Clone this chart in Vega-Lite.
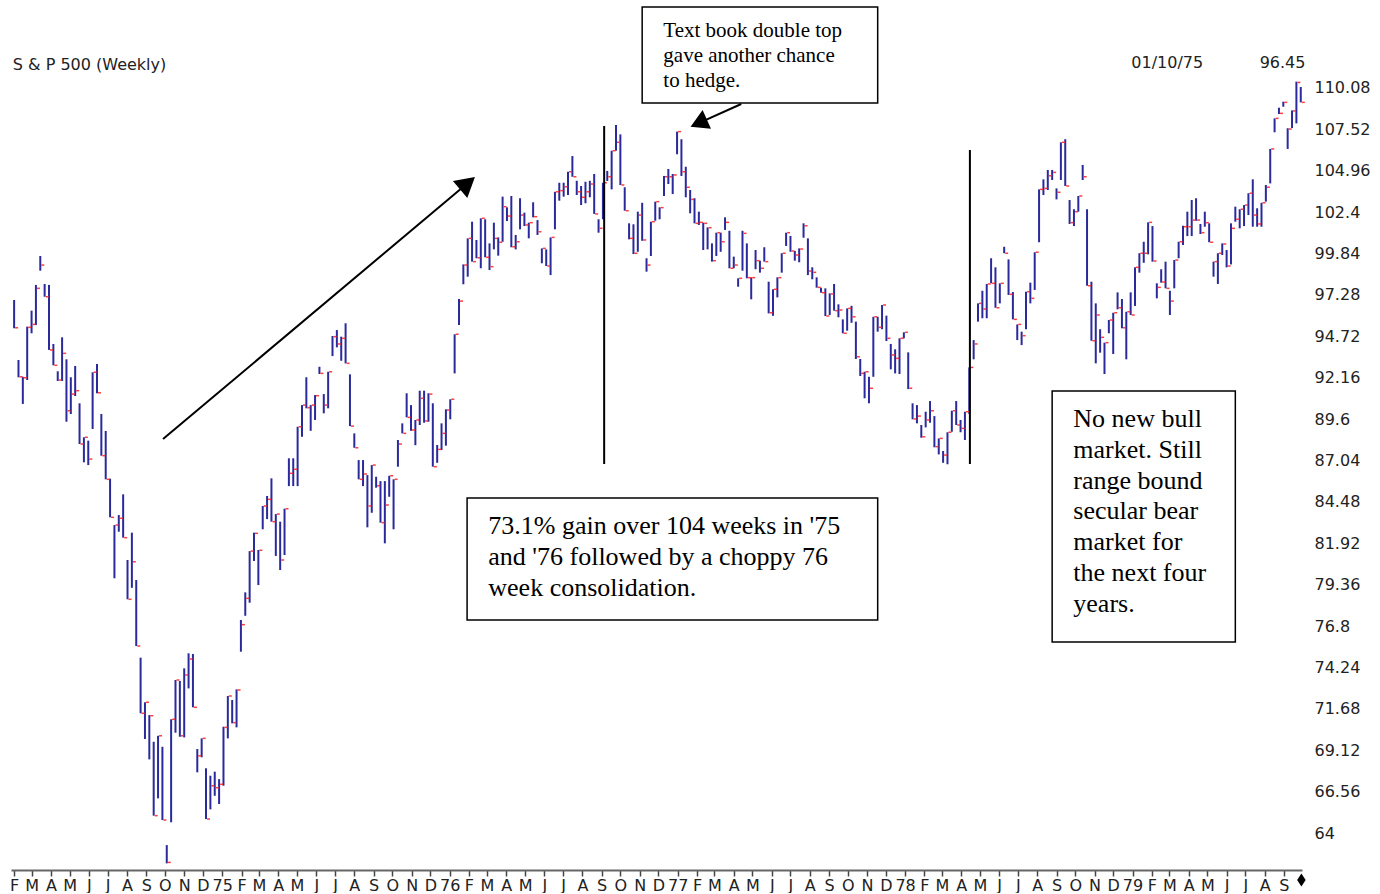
{
"$schema": "https://vega.github.io/schema/vega-lite/v6.json",
"width": 1291,
"height": 870,
"padding": {"left": 9, "top": 0, "right": 4, "bottom": 0},
"background": "white",
"config": {"view": {"stroke": null}},
"data": {"values": [
{"d":"1974-02-01","h":96.97,"l":95.22,"c":95.25},
{"d":"1974-02-08","h":93.26,"l":92.19,"c":92.22},
{"d":"1974-02-15","h":92.22,"l":90.54,"c":92.16},
{"d":"1974-02-22","h":95.32,"l":92.02,"c":95.28},
{"d":"1974-03-01","h":96.31,"l":94.91,"c":95.46},
{"d":"1974-03-08","h":97.90,"l":95.42,"c":97.69},
{"d":"1974-03-15","h":99.69,"l":98.78,"c":99.13},
{"d":"1974-03-22","h":97.96,"l":97.17,"c":97.17},
{"d":"1974-03-29","h":97.90,"l":93.88,"c":93.88},
{"d":"1974-04-05","h":94.25,"l":92.93,"c":92.93},
{"d":"1974-04-12","h":92.56,"l":91.96,"c":92.02},
{"d":"1974-04-19","h":94.66,"l":91.96,"c":93.67},
{"d":"1974-04-26","h":93.30,"l":89.44,"c":90.12},
{"d":"1974-05-03","h":92.19,"l":89.92,"c":91.15},
{"d":"1974-05-10","h":92.89,"l":91.03,"c":91.36},
{"d":"1974-05-17","h":90.58,"l":88.06,"c":88.06},
{"d":"1974-05-24","h":88.48,"l":86.93,"c":88.48},
{"d":"1974-05-31","h":88.27,"l":86.76,"c":87.13},
{"d":"1974-06-07","h":92.50,"l":88.99,"c":92.50},
{"d":"1974-06-14","h":93.01,"l":91.20,"c":91.23},
{"d":"1974-06-21","h":89.92,"l":87.34,"c":87.34},
{"d":"1974-06-28","h":88.87,"l":85.88,"c":85.88},
{"d":"1974-07-05","h":85.92,"l":83.53,"c":83.53},
{"d":"1974-07-12","h":83.05,"l":79.76,"c":83.05},
{"d":"1974-07-19","h":83.67,"l":82.64,"c":83.47},
{"d":"1974-07-26","h":84.95,"l":82.27,"c":82.27},
{"d":"1974-08-02","h":80.89,"l":78.46,"c":78.46},
{"d":"1974-08-09","h":82.58,"l":79.17,"c":80.78},
{"d":"1974-08-16","h":79.65,"l":75.57,"c":75.57},
{"d":"1974-08-23","h":74.85,"l":71.41,"c":71.41},
{"d":"1974-08-30","h":72.09,"l":69.82,"c":72.09},
{"d":"1974-09-06","h":71.30,"l":68.56,"c":71.26},
{"d":"1974-09-13","h":69.65,"l":65.08,"c":65.08},
{"d":"1974-09-20","h":70.02,"l":66.15,"c":70.02},
{"d":"1974-09-27","h":69.34,"l":64.81,"c":64.81},
{"d":"1974-10-04","h":63.26,"l":62.13,"c":62.19},
{"d":"1974-10-11","h":71.04,"l":64.67,"c":71.04},
{"d":"1974-10-18","h":73.47,"l":70.21,"c":73.47},
{"d":"1974-10-25","h":73.41,"l":69.96,"c":70.02},
{"d":"1974-11-01","h":74.19,"l":69.92,"c":73.78},
{"d":"1974-11-08","h":75.12,"l":72.95,"c":74.77},
{"d":"1974-11-15","h":75.08,"l":71.78,"c":71.78},
{"d":"1974-11-22","h":69.20,"l":67.76,"c":68.78},
{"d":"1974-11-29","h":69.86,"l":68.69,"c":69.86},
{"d":"1974-12-06","h":68.01,"l":64.87,"c":64.87},
{"d":"1974-12-13","h":67.55,"l":65.47,"c":66.93},
{"d":"1974-12-20","h":67.80,"l":66.31,"c":66.81},
{"d":"1974-12-27","h":67.34,"l":65.80,"c":67.02},
{"d":"1975-01-03","h":70.58,"l":66.93,"c":70.54},
{"d":"1975-01-10","h":72.48,"l":69.86,"c":72.48},
{"d":"1975-01-17","h":72.23,"l":70.79,"c":70.83},
{"d":"1975-01-24","h":72.89,"l":70.54,"c":72.85},
{"d":"1975-01-31","h":77.18,"l":75.22,"c":76.89},
{"d":"1975-02-07","h":78.89,"l":77.44,"c":78.52},
{"d":"1975-02-14","h":81.44,"l":78.25,"c":81.44},
{"d":"1975-02-21","h":82.58,"l":80.83,"c":82.54},
{"d":"1975-02-28","h":81.51,"l":79.34,"c":81.49},
{"d":"1975-03-07","h":84.23,"l":82.79,"c":84.23},
{"d":"1975-03-14","h":84.85,"l":83.42,"c":84.64},
{"d":"1975-03-21","h":85.94,"l":83.26,"c":83.26},
{"d":"1975-03-28","h":83.73,"l":81.14,"c":83.73},
{"d":"1975-04-04","h":83.26,"l":80.27,"c":80.89},
{"d":"1975-04-11","h":84.06,"l":81.20,"c":84.06},
{"d":"1975-04-18","h":87.18,"l":85.46,"c":86.25},
{"d":"1975-04-25","h":87.18,"l":85.46,"c":86.50},
{"d":"1975-05-02","h":89.13,"l":85.46,"c":89.13},
{"d":"1975-05-09","h":90.47,"l":88.51,"c":90.47},
{"d":"1975-05-16","h":92.19,"l":90.27,"c":90.31},
{"d":"1975-05-23","h":90.47,"l":88.88,"c":90.47},
{"d":"1975-05-30","h":91.09,"l":89.55,"c":91.05},
{"d":"1975-06-06","h":92.84,"l":92.39,"c":92.43},
{"d":"1975-06-13","h":91.15,"l":89.96,"c":90.47},
{"d":"1975-06-20","h":92.53,"l":90.27,"c":92.53},
{"d":"1975-06-27","h":94.74,"l":93.50,"c":94.70},
{"d":"1975-07-04","h":95.11,"l":94.04,"c":94.25},
{"d":"1975-07-11","h":94.70,"l":93.21,"c":94.60},
{"d":"1975-07-18","h":95.53,"l":93.05,"c":93.05},
{"d":"1975-07-25","h":92.37,"l":89.17,"c":89.17},
{"d":"1975-08-01","h":88.72,"l":87.83,"c":87.83},
{"d":"1975-08-08","h":87.07,"l":85.88,"c":85.88},
{"d":"1975-08-15","h":87.07,"l":85.46,"c":86.21},
{"d":"1975-08-22","h":86.14,"l":82.91,"c":84.23},
{"d":"1975-08-29","h":86.76,"l":83.81,"c":86.76},
{"d":"1975-09-05","h":86.04,"l":85.36,"c":85.48},
{"d":"1975-09-12","h":85.77,"l":83.20,"c":83.20},
{"d":"1975-09-19","h":85.77,"l":81.92,"c":84.29},
{"d":"1975-09-26","h":86.10,"l":84.80,"c":86.10},
{"d":"1975-10-03","h":85.88,"l":82.79,"c":85.88},
{"d":"1975-10-10","h":88.31,"l":86.66,"c":88.06},
{"d":"1975-10-17","h":89.34,"l":88.72,"c":88.72},
{"d":"1975-10-24","h":91.20,"l":89.71,"c":89.71},
{"d":"1975-10-31","h":90.47,"l":88.88,"c":88.93},
{"d":"1975-11-07","h":89.55,"l":87.99,"c":89.55},
{"d":"1975-11-14","h":91.36,"l":89.24,"c":90.89},
{"d":"1975-11-21","h":91.36,"l":89.38,"c":89.49},
{"d":"1975-11-28","h":91.20,"l":89.44,"c":91.15},
{"d":"1975-12-05","h":90.58,"l":86.66,"c":86.66},
{"d":"1975-12-12","h":88.00,"l":86.90,"c":87.73},
{"d":"1975-12-19","h":89.34,"l":87.69,"c":88.72},
{"d":"1975-12-26","h":90.21,"l":87.96,"c":90.16},
{"d":"1976-01-02","h":90.83,"l":89.59,"c":90.83},
{"d":"1976-01-09","h":94.85,"l":92.43,"c":94.85},
{"d":"1976-01-16","h":97.03,"l":95.42,"c":96.90},
{"d":"1976-01-23","h":99.17,"l":97.94,"c":99.13},
{"d":"1976-01-30","h":100.78,"l":98.41,"c":100.78},
{"d":"1976-02-06","h":101.81,"l":99.34,"c":99.34},
{"d":"1976-02-13","h":100.68,"l":99.55,"c":99.58},
{"d":"1976-02-20","h":102.02,"l":98.93,"c":102.02},
{"d":"1976-02-27","h":101.96,"l":99.61,"c":99.61},
{"d":"1976-03-05","h":100.47,"l":98.82,"c":99.03},
{"d":"1976-03-12","h":101.75,"l":100.10,"c":100.78},
{"d":"1976-03-19","h":100.84,"l":99.71,"c":100.54},
{"d":"1976-03-26","h":103.36,"l":100.57,"c":102.74},
{"d":"1976-04-02","h":102.70,"l":101.85,"c":102.16},
{"d":"1976-04-09","h":103.40,"l":100.23,"c":100.26},
{"d":"1976-04-16","h":100.99,"l":100.10,"c":100.57},
{"d":"1976-04-23","h":103.26,"l":101.34,"c":102.22},
{"d":"1976-04-30","h":102.37,"l":101.54,"c":101.61},
{"d":"1976-05-07","h":101.75,"l":100.78,"c":101.75},
{"d":"1976-05-14","h":103.01,"l":102.08,"c":102.12},
{"d":"1976-05-21","h":101.91,"l":100.99,"c":101.19},
{"d":"1976-05-28","h":100.16,"l":99.24,"c":100.16},
{"d":"1976-06-04","h":100.10,"l":99.07,"c":99.07},
{"d":"1976-06-11","h":100.84,"l":98.51,"c":100.84},
{"d":"1976-06-18","h":103.66,"l":101.34,"c":103.66},
{"d":"1976-06-25","h":104.22,"l":103.11,"c":103.73},
{"d":"1976-07-02","h":104.22,"l":103.36,"c":103.97},
{"d":"1976-07-09","h":104.90,"l":103.46,"c":104.90},
{"d":"1976-07-16","h":105.87,"l":104.59,"c":104.59},
{"d":"1976-07-23","h":104.34,"l":103.46,"c":103.66},
{"d":"1976-07-30","h":104.02,"l":102.84,"c":103.32},
{"d":"1976-08-06","h":104.28,"l":102.95,"c":103.66},
{"d":"1976-08-13","h":104.34,"l":103.32,"c":104.14},
{"d":"1976-08-20","h":104.76,"l":102.29,"c":102.29},
{"d":"1976-08-27","h":101.96,"l":101.13,"c":101.40},
{"d":"1976-09-03","h":104.22,"l":101.96,"c":104.22},
{"d":"1976-09-10","h":104.95,"l":104.33,"c":104.59},
{"d":"1976-09-17","h":106.20,"l":103.81,"c":106.20},
{"d":"1976-09-24","h":107.79,"l":106.20,"c":106.72},
{"d":"1976-10-01","h":107.21,"l":104.08,"c":104.08},
{"d":"1976-10-08","h":103.94,"l":102.49,"c":102.49},
{"d":"1976-10-15","h":101.71,"l":100.72,"c":100.78},
{"d":"1976-10-22","h":101.65,"l":99.81,"c":99.86},
{"d":"1976-10-29","h":102.43,"l":99.95,"c":102.22},
{"d":"1976-11-05","h":102.98,"l":100.63,"c":100.68},
{"d":"1976-11-12","h":99.55,"l":98.72,"c":99.13},
{"d":"1976-11-19","h":101.81,"l":99.69,"c":101.81},
{"d":"1976-11-26","h":103.05,"l":101.87,"c":103.05},
{"d":"1976-12-03","h":102.70,"l":101.96,"c":102.68},
{"d":"1976-12-10","h":104.64,"l":103.40,"c":104.59},
{"d":"1976-12-17","h":105.07,"l":104.14,"c":104.59},
{"d":"1976-12-24","h":104.76,"l":103.52,"c":104.70},
{"d":"1976-12-31","h":107.38,"l":105.98,"c":107.38},
{"d":"1977-01-07","h":106.91,"l":104.64,"c":104.90},
{"d":"1977-01-14","h":105.21,"l":103.32,"c":103.94},
{"d":"1977-01-21","h":103.77,"l":102.33,"c":103.19},
{"d":"1977-01-28","h":103.26,"l":101.71,"c":101.71},
{"d":"1977-02-04","h":102.43,"l":101.61,"c":101.77},
{"d":"1977-02-11","h":101.75,"l":100.06,"c":101.71},
{"d":"1977-02-18","h":101.46,"l":100.10,"c":101.44},
{"d":"1977-02-25","h":100.47,"l":99.34,"c":99.40},
{"d":"1977-03-04","h":101.13,"l":99.69,"c":101.13},
{"d":"1977-03-11","h":101.13,"l":99.95,"c":100.57},
{"d":"1977-03-18","h":102.08,"l":101.30,"c":101.77},
{"d":"1977-03-25","h":101.25,"l":98.93,"c":98.93},
{"d":"1977-04-01","h":99.65,"l":98.93,"c":99.13},
{"d":"1977-04-08","h":98.31,"l":97.79,"c":98.31},
{"d":"1977-04-15","h":101.25,"l":98.78,"c":101.09},
{"d":"1977-04-22","h":100.47,"l":98.31,"c":98.35},
{"d":"1977-04-29","h":98.37,"l":97.01,"c":98.35},
{"d":"1977-05-06","h":100.06,"l":98.87,"c":99.40},
{"d":"1977-05-13","h":99.40,"l":98.66,"c":98.93},
{"d":"1977-05-20","h":100.23,"l":99.34,"c":99.34},
{"d":"1977-05-27","h":98.10,"l":96.14,"c":96.18},
{"d":"1977-06-03","h":97.63,"l":95.99,"c":97.63},
{"d":"1977-06-10","h":98.37,"l":97.13,"c":98.35},
{"d":"1977-06-17","h":99.86,"l":98.66,"c":99.86},
{"d":"1977-06-24","h":101.13,"l":100.31,"c":101.13},
{"d":"1977-07-01","h":100.93,"l":99.95,"c":100.00},
{"d":"1977-07-08","h":100.00,"l":99.40,"c":99.75},
{"d":"1977-07-15","h":100.16,"l":99.30,"c":100.12},
{"d":"1977-07-22","h":101.71,"l":100.82,"c":101.56},
{"d":"1977-07-29","h":100.78,"l":98.51,"c":98.76},
{"d":"1977-08-05","h":98.99,"l":98.25,"c":98.68},
{"d":"1977-08-12","h":98.37,"l":97.73,"c":97.75},
{"d":"1977-08-19","h":97.73,"l":97.42,"c":97.42},
{"d":"1977-08-26","h":97.69,"l":95.98,"c":95.98},
{"d":"1977-09-02","h":97.38,"l":96.04,"c":97.34},
{"d":"1977-09-09","h":97.96,"l":96.31,"c":96.31},
{"d":"1977-09-16","h":96.70,"l":95.90,"c":96.35},
{"d":"1977-09-23","h":95.77,"l":94.91,"c":94.91},
{"d":"1977-09-30","h":96.45,"l":95.07,"c":96.45},
{"d":"1977-10-07","h":96.61,"l":95.56,"c":95.93},
{"d":"1977-10-14","h":95.63,"l":93.32,"c":93.46},
{"d":"1977-10-21","h":93.32,"l":92.27,"c":92.43},
{"d":"1977-10-28","h":92.53,"l":90.89,"c":92.53},
{"d":"1977-11-04","h":92.22,"l":90.58,"c":91.51},
{"d":"1977-11-11","h":95.93,"l":92.22,"c":95.93},
{"d":"1977-11-18","h":95.93,"l":95.01,"c":95.28},
{"d":"1977-11-25","h":96.66,"l":95.16,"c":96.66},
{"d":"1977-12-02","h":96.00,"l":94.43,"c":94.60},
{"d":"1977-12-09","h":94.25,"l":92.68,"c":93.57},
{"d":"1977-12-16","h":93.92,"l":92.43,"c":93.36},
{"d":"1977-12-23","h":94.60,"l":92.39,"c":94.60},
{"d":"1977-12-30","h":94.97,"l":94.60,"c":94.97},
{"d":"1978-01-06","h":93.73,"l":91.46,"c":91.51},
{"d":"1978-01-13","h":90.58,"l":89.59,"c":89.61},
{"d":"1978-01-20","h":90.47,"l":89.34,"c":89.79},
{"d":"1978-01-27","h":89.24,"l":88.45,"c":88.51},
{"d":"1978-02-03","h":90.06,"l":89.09,"c":89.55},
{"d":"1978-02-10","h":90.72,"l":89.38,"c":90.12},
{"d":"1978-02-17","h":89.79,"l":87.86,"c":87.90},
{"d":"1978-02-24","h":88.41,"l":87.42,"c":88.41},
{"d":"1978-03-03","h":87.63,"l":86.90,"c":87.38},
{"d":"1978-03-10","h":88.79,"l":86.81,"c":88.79},
{"d":"1978-03-17","h":90.12,"l":88.82,"c":90.12},
{"d":"1978-03-24","h":90.72,"l":89.24,"c":89.24},
{"d":"1978-03-31","h":89.55,"l":88.79,"c":89.03},
{"d":"1978-04-07","h":90.06,"l":88.31,"c":90.06},
{"d":"1978-04-14","h":92.80,"l":89.92,"c":92.80},
{"d":"1978-04-21","h":94.49,"l":93.30,"c":94.25},
{"d":"1978-04-28","h":96.76,"l":95.63,"c":96.76},
{"d":"1978-05-05","h":97.54,"l":95.84,"c":96.41},
{"d":"1978-05-12","h":97.96,"l":95.84,"c":97.96},
{"d":"1978-05-19","h":99.55,"l":98.00,"c":98.00},
{"d":"1978-05-26","h":98.99,"l":96.49,"c":96.49},
{"d":"1978-06-02","h":98.00,"l":96.76,"c":98.00},
{"d":"1978-06-09","h":100.26,"l":99.86,"c":99.86},
{"d":"1978-06-16","h":99.48,"l":97.28,"c":97.32},
{"d":"1978-06-23","h":97.46,"l":95.77,"c":95.77},
{"d":"1978-06-30","h":95.46,"l":94.49,"c":95.46},
{"d":"1978-07-07","h":95.01,"l":94.18,"c":94.76},
{"d":"1978-07-14","h":97.48,"l":95.16,"c":97.48},
{"d":"1978-07-21","h":98.04,"l":96.76,"c":97.07},
{"d":"1978-07-28","h":99.92,"l":97.59,"c":99.92},
{"d":"1978-08-04","h":103.81,"l":100.54,"c":103.81},
{"d":"1978-08-11","h":104.43,"l":103.46,"c":103.87},
{"d":"1978-08-18","h":105.01,"l":103.77,"c":104.65},
{"d":"1978-08-25","h":105.01,"l":104.39,"c":104.86},
{"d":"1978-09-01","h":103.87,"l":103.19,"c":103.63},
{"d":"1978-09-08","h":106.72,"l":104.39,"c":106.72},
{"d":"1978-09-15","h":106.91,"l":104.02,"c":104.02},
{"d":"1978-09-22","h":103.15,"l":101.67,"c":101.75},
{"d":"1978-09-29","h":102.58,"l":101.54,"c":102.43},
{"d":"1978-10-06","h":103.40,"l":102.43,"c":103.40},
{"d":"1978-10-13","h":105.32,"l":104.39,"c":104.59},
{"d":"1978-10-20","h":102.58,"l":97.85,"c":97.85},
{"d":"1978-10-27","h":98.10,"l":94.45,"c":94.45},
{"d":"1978-11-03","h":96.76,"l":93.05,"c":96.04},
{"d":"1978-11-10","h":95.16,"l":93.71,"c":94.66},
{"d":"1978-11-17","h":94.33,"l":92.39,"c":94.33},
{"d":"1978-11-24","h":95.73,"l":94.91,"c":95.73},
{"d":"1978-12-01","h":96.18,"l":93.63,"c":96.18},
{"d":"1978-12-08","h":97.44,"l":96.39,"c":96.49},
{"d":"1978-12-15","h":97.03,"l":95.22,"c":95.25},
{"d":"1978-12-22","h":96.24,"l":93.30,"c":96.24},
{"d":"1978-12-29","h":97.44,"l":96.04,"c":96.04},
{"d":"1979-01-05","h":98.99,"l":96.60,"c":98.99},
{"d":"1979-01-12","h":99.86,"l":98.66,"c":99.86},
{"d":"1979-01-19","h":100.57,"l":99.27,"c":99.86},
{"d":"1979-01-26","h":101.77,"l":99.79,"c":101.77},
{"d":"1979-02-02","h":101.54,"l":99.34,"c":99.38},
{"d":"1979-02-09","h":98.00,"l":97.07,"c":97.75},
{"d":"1979-02-16","h":98.87,"l":98.04,"c":98.08},
{"d":"1979-02-23","h":99.34,"l":97.69,"c":97.69},
{"d":"1979-03-02","h":97.54,"l":96.04,"c":96.90},
{"d":"1979-03-09","h":99.44,"l":97.69,"c":99.44},
{"d":"1979-03-16","h":100.57,"l":99.55,"c":100.57},
{"d":"1979-03-23","h":101.56,"l":100.37,"c":101.50},
{"d":"1979-03-30","h":102.43,"l":100.92,"c":101.50},
{"d":"1979-04-06","h":103.15,"l":100.92,"c":101.91},
{"d":"1979-04-13","h":103.26,"l":101.87,"c":101.91},
{"d":"1979-04-20","h":101.67,"l":101.05,"c":101.13},
{"d":"1979-04-27","h":102.43,"l":101.50,"c":101.75},
{"d":"1979-05-04","h":101.71,"l":100.54,"c":100.54},
{"d":"1979-05-11","h":99.34,"l":98.41,"c":99.34},
{"d":"1979-05-18","h":99.86,"l":97.96,"c":99.86},
{"d":"1979-05-25","h":100.47,"l":99.75,"c":100.43},
{"d":"1979-06-01","h":100.06,"l":98.99,"c":99.07},
{"d":"1979-06-08","h":101.71,"l":99.17,"c":101.40},
{"d":"1979-06-15","h":102.74,"l":101.81,"c":101.96},
{"d":"1979-06-22","h":102.58,"l":101.40,"c":102.58},
{"d":"1979-06-29","h":102.84,"l":101.54,"c":102.84},
{"d":"1979-07-06","h":103.57,"l":102.22,"c":103.57},
{"d":"1979-07-13","h":104.43,"l":101.50,"c":102.22},
{"d":"1979-07-20","h":102.64,"l":101.50,"c":101.67},
{"d":"1979-07-27","h":102.98,"l":101.50,"c":102.98},
{"d":"1979-08-03","h":104.08,"l":103.05,"c":103.94},
{"d":"1979-08-10","h":106.31,"l":104.18,"c":106.31},
{"d":"1979-08-17","h":108.20,"l":107.34,"c":108.20},
{"d":"1979-08-24","h":108.86,"l":108.47,"c":108.51},
{"d":"1979-08-31","h":109.23,"l":108.92,"c":109.19},
{"d":"1979-09-07","h":107.59,"l":106.31,"c":107.54},
{"d":"1979-09-14","h":108.69,"l":107.60,"c":108.66},
{"d":"1979-09-21","h":110.47,"l":107.89,"c":110.42},
{"d":"1979-09-28","h":110.14,"l":109.19,"c":109.19}
]},
"layer": [
{
"mark": {"type": "rule", "color": "#2a2a9c", "strokeWidth": 2},
"encoding": {
"x": {"field": "d", "type": "temporal",
"scale": {"domain": [{"year": 1974, "month": 1, "date": 27, "utc": true}, {"year": 1979, "month": 9, "date": 30, "utc": true}], "nice": false},
"axis": {"title": null, "tickCount": {"interval": "month", "step": 1},
"labelExpr": "month(datum.value) == 0 ? timeFormat(datum.value, '%y') : slice(timeFormat(datum.value, '%b'), 0, 1)",
"grid": false, "domainColor": "#666666", "domainWidth": 2, "tickColor": "#444444", "tickSize": 6, "tickWidth": 1.5,
"labelFont": "DejaVu Sans", "labelFontSize": 16, "labelColor": "#222222", "labelPadding": 1, "labelOverlap": false, "labelFlush": false, "labelBound": false}},
"y": {"field": "h", "type": "quantitative",
"scale": {"domain": [61.72, 115.52], "nice": false, "zero": false},
"axis": {"title": null, "orient": "right", "values": [64, 66.56, 69.12, 71.68, 74.24, 76.8, 79.36, 81.92, 84.48, 87.04, 89.6, 92.16, 94.72, 97.28, 99.84, 102.4, 104.96, 107.52, 110.08],
"labelExpr": "toString(datum.value)", "grid": false, "domain": false, "ticks": false, "labelPadding": 12,
"labelFont": "DejaVu Sans", "labelFontSize": 16, "labelColor": "#222222"}},
"y2": {"field": "l"}
}
},
{
"mark": {"type": "tick", "orient": "horizontal", "color": "#ff2a2a", "size": 3, "thickness": 1.5, "xOffset": 2.5, "opacity": 0.9},
"encoding": {
"x": {"field": "d", "type": "temporal"},
"y": {"field": "c", "type": "quantitative"}
}
},
{
"data": {"values": [{}]},
"mark": {"type": "rule", "color": "black", "strokeWidth": 2},
"encoding": {
"x": {"datum": {"year": 1976, "month": 9, "date": 5, "utc": true}, "type": "temporal"},
"y": {"datum": 107.73, "type": "quantitative"},
"y2": {"datum": 86.83}
}
},
{
"data": {"values": [{}]},
"mark": {"type": "rule", "color": "black", "strokeWidth": 2},
"encoding": {
"x": {"datum": {"year": 1978, "month": 4, "date": 15, "utc": true}, "type": "temporal"},
"y": {"datum": 106.24, "type": "quantitative"},
"y2": {"datum": 86.83}
}
},
{
"data": {"values": [{}]},
"mark": {"type": "rule", "color": "black", "strokeWidth": 2},
"encoding": {
"x": {"datum": {"year": 1974, "month": 9, "date": 28, "utc": true}, "type": "temporal"},
"x2": {"datum": {"year": 1976, "month": 1, "date": 29, "hours": 17, "utc": true}},
"y": {"datum": 88.37, "type": "quantitative"},
"y2": {"datum": 104.19}
}
},
{
"data": {"values": [{}]},
"mark": {"type": "point", "shape": "triangle-up", "filled": true, "color": "black", "opacity": 1, "size": 500, "angle": 50},
"encoding": {
"x": {"datum": {"year": 1976, "month": 1, "date": 29, "hours": 17, "utc": true}, "type": "temporal"},
"y": {"datum": 104.19, "type": "quantitative"}
}
},
{
"data": {"values": [{}]},
"mark": {"type": "rule", "color": "black", "strokeWidth": 2},
"encoding": {
"x": {"datum": {"year": 1977, "month": 4, "date": 13, "utc": true}, "type": "temporal"},
"x2": {"datum": {"year": 1977, "month": 2, "date": 3, "hours": 17, "utc": true}},
"y": {"datum": 109.09, "type": "quantitative"},
"y2": {"datum": 107.91}
}
},
{
"data": {"values": [{}]},
"mark": {"type": "point", "shape": "triangle-up", "filled": true, "color": "black", "opacity": 1, "size": 420, "angle": 246},
"encoding": {
"x": {"datum": {"year": 1977, "month": 2, "date": 3, "hours": 17, "utc": true}, "type": "temporal"},
"y": {"datum": 107.91, "type": "quantitative"}
}
},
{
"data": {"values": [{}]},
"mark": {"type": "rect", "fill": "white", "stroke": "black", "strokeWidth": 1.5},
"encoding": {
"x": {"datum": {"year": 1976, "month": 11, "date": 5, "utc": true}, "type": "temporal"},
"x2": {"datum": {"year": 1977, "month": 11, "date": 18, "utc": true}},
"y": {"datum": 115.09, "type": "quantitative"},
"y2": {"datum": 109.15}
}
},
{
"data": {"values": [{}]},
"mark": {"type": "rect", "fill": "white", "stroke": "black", "strokeWidth": 1.5},
"encoding": {
"x": {"datum": {"year": 1976, "month": 1, "date": 29, "utc": true}, "type": "temporal"},
"x2": {"datum": {"year": 1977, "month": 11, "date": 18, "utc": true}},
"y": {"datum": 84.72, "type": "quantitative"},
"y2": {"datum": 77.18}
}
},
{
"data": {"values": [{}]},
"mark": {"type": "rect", "fill": "white", "stroke": "black", "strokeWidth": 1.5},
"encoding": {
"x": {"datum": {"year": 1978, "month": 8, "date": 25, "utc": true}, "type": "temporal"},
"x2": {"datum": {"year": 1979, "month": 6, "date": 15, "utc": true}},
"y": {"datum": 91.34, "type": "quantitative"},
"y2": {"datum": 75.82}
}
},
{
"data": {"values": [{}]},
"mark": {"type": "text", "text": ["Text book double top", "gave another chance", "to hedge."], "font": "Liberation Serif", "fontSize": 21, "lineHeight": 25, "align": "left", "baseline": "alphabetic", "color": "black"},
"encoding": {
"x": {"datum": {"year": 1976, "month": 12, "date": 9, "utc": true}, "type": "temporal"},
"y": {"datum": 113.23, "type": "quantitative"}
}
},
{
"data": {"values": [{}]},
"mark": {"type": "text", "text": ["73.1% gain over 104 weeks  in '75", "and '76 followed by a choppy 76", "week consolidation."], "font": "Liberation Serif", "fontSize": 26, "lineHeight": 31, "align": "left", "baseline": "alphabetic", "color": "black"},
"encoding": {
"x": {"datum": {"year": 1976, "month": 3, "date": 3, "utc": true}, "type": "temporal"},
"y": {"datum": 82.50, "type": "quantitative"}
}
},
{
"data": {"values": [{}]},
"mark": {"type": "text", "text": ["No new bull", "market.  Still", "range bound", "secular bear", "market for", "the next four", "years."], "font": "Liberation Serif", "fontSize": 26, "lineHeight": 30.8, "align": "left", "baseline": "alphabetic", "color": "black"},
"encoding": {
"x": {"datum": {"year": 1978, "month": 9, "date": 28, "utc": true}, "type": "temporal"},
"y": {"datum": 89.11, "type": "quantitative"}
}
},
{
"data": {"values": [{}]},
"mark": {"type": "text", "text": "S & P 500 (Weekly)", "font": "DejaVu Sans", "fontSize": 16, "align": "left", "baseline": "middle", "color": "#222222"},
"encoding": {
"x": {"datum": {"year": 1974, "month": 1, "date": 30, "utc": true}, "type": "temporal"},
"y": {"datum": 111.50, "type": "quantitative"}
}
},
{
"data": {"values": [{}]},
"mark": {"type": "text", "text": "01/10/75", "font": "DejaVu Sans", "fontSize": 16, "align": "left", "baseline": "middle", "color": "#222222"},
"encoding": {
"x": {"datum": {"year": 1978, "month": 12, "date": 30, "utc": true}, "type": "temporal"},
"y": {"datum": 111.62, "type": "quantitative"}
}
},
{
"data": {"values": [{}]},
"mark": {"type": "text", "text": "96.45", "font": "DejaVu Sans", "fontSize": 16, "align": "left", "baseline": "middle", "color": "#222222"},
"encoding": {
"x": {"datum": {"year": 1979, "month": 7, "date": 24, "utc": true}, "type": "temporal"},
"y": {"datum": 111.62, "type": "quantitative"}
}
},
{
"data": {"values": [{}]},
"mark": {"type": "point", "shape": "M0,-1.3L0.85,0L0,1.3L-0.85,0Z", "filled": true, "color": "black", "opacity": 1, "size": 100},
"encoding": {
"x": {"datum": {"year": 1979, "month": 9, "date": 29, "utc": true}, "type": "temporal"},
"y": {"datum": 61.10, "type": "quantitative"}
}
}
]
}
